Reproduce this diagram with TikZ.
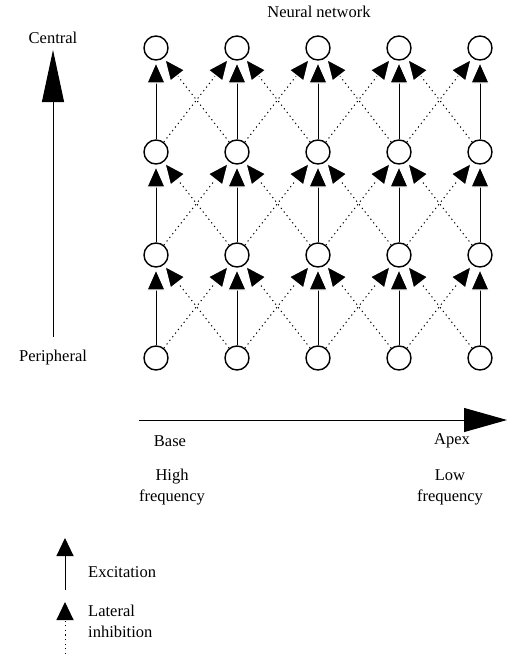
\documentclass[tikz,border=0pt]{standalone}
\usepackage{fontspec}
\setmainfont{Liberation Serif}
\usetikzlibrary{arrows.meta}
\tikzset{
  neuron/.style={circle, draw, fill=white, line width=1.4pt, minimum size=24pt, inner sep=0pt},
  exc/.style={line width=1pt, -{Triangle[width=20pt,length=23pt,fill=black,color=white,line width=1.3pt]}},
  inh/.style={line width=1pt, dash pattern=on 1.2pt off 3.4pt, -{Triangle[width=20pt,length=23pt,fill=black,color=white,line width=1.3pt]}},
  lbl/.style={font=\fontsize{16.5}{21}\selectfont, inner sep=0pt}
}
\begin{document}
\begin{tikzpicture}[x=1pt, y=-1pt]
\useasboundingbox (0,0) rectangle (514,654);
% network title
\node[lbl] (title) at (319,12){Neural network};
% neurons, column by column, top row first
\node[neuron] (n11) at (156,48){};
\node[neuron] (n12) at (156,152){};
\node[neuron] (n13) at (156,255){};
\node[neuron] (n14) at (156,358){};
\node[neuron] (n21) at (237,48){};
\node[neuron] (n22) at (237,152){};
\node[neuron] (n23) at (237,255){};
\node[neuron] (n24) at (237,358){};
\node[neuron] (n31) at (318,48){};
\node[neuron] (n32) at (318,152){};
\node[neuron] (n33) at (318,255){};
\node[neuron] (n34) at (318,358){};
\node[neuron] (n41) at (399,48){};
\node[neuron] (n42) at (399,152){};
\node[neuron] (n43) at (399,255){};
\node[neuron] (n44) at (399,358){};
\node[neuron] (n51) at (480,48){};
\node[neuron] (n52) at (480,152){};
\node[neuron] (n53) at (480,255){};
\node[neuron] (n54) at (480,358){};
% lateral inhibition
\draw[inh](n14) -- (n23);
\draw[inh](n24) -- (n13);
\draw[inh](n24) -- (n33);
\draw[inh](n34) -- (n23);
\draw[inh](n34) -- (n43);
\draw[inh](n44) -- (n33);
\draw[inh](n44) -- (n53);
\draw[inh](n54) -- (n43);
\draw[inh](n13) -- (n22);
\draw[inh](n23) -- (n12);
\draw[inh](n23) -- (n32);
\draw[inh](n33) -- (n22);
\draw[inh](n33) -- (n42);
\draw[inh](n43) -- (n32);
\draw[inh](n43) -- (n52);
\draw[inh](n53) -- (n42);
\draw[inh](n12) -- (n21);
\draw[inh](n22) -- (n11);
\draw[inh](n22) -- (n31);
\draw[inh](n32) -- (n21);
\draw[inh](n32) -- (n41);
\draw[inh](n42) -- (n31);
\draw[inh](n42) -- (n51);
\draw[inh](n52) -- (n41);
% excitation
\draw[exc](n14) -- (n13);
\draw[exc](n13) -- (n12);
\draw[exc](n12) -- (n11);
\draw[exc](n24) -- (n23);
\draw[exc](n23) -- (n22);
\draw[exc](n22) -- (n21);
\draw[exc](n34) -- (n33);
\draw[exc](n33) -- (n32);
\draw[exc](n32) -- (n31);
\draw[exc](n44) -- (n43);
\draw[exc](n43) -- (n42);
\draw[exc](n42) -- (n41);
\draw[exc](n54) -- (n53);
\draw[exc](n53) -- (n52);
\draw[exc](n52) -- (n51);
% central / peripheral axis
\node[lbl] (central) at (53,38){Central};
\node[lbl] (periph) at (53,358){Peripheral};
\coordinate (vtop) at (53,50);
\coordinate (vbot) at (53,337);
\draw[line width=1pt, -{Triangle[width=22pt,length=52pt]}] (vbot) -- (vtop);
% base / apex axis
\coordinate (hleft) at (139,420);
\coordinate (hright) at (507,420);
\draw[line width=1pt, -{Triangle[width=24pt,length=43pt]}] (hleft) -- (hright);
\node[lbl] (base) at (170,441){Base};
\node[lbl] (apex) at (452,441){Apex};
\node[lbl, align=center] (high) at (172,487){High\\frequency};
\node[lbl, align=center] (low) at (450,487){Low\\frequency};
% legend
\coordinate (ea) at (65,590);
\coordinate (eb) at (65,538);
\draw[line width=1pt, -{Triangle[width=17pt,length=18pt]}] (ea) -- (eb);
\node[lbl, anchor=west] (exclbl) at (88,572){Excitation};
\coordinate (ia) at (65,654);
\coordinate (ib) at (65,602);
\draw[line width=1pt, dash pattern=on 1.2pt off 3.4pt, -{Triangle[width=17pt,length=18pt]}] (ia) -- (ib);
\node[lbl, anchor=west, align=left] (inhlbl) at (88,621){Lateral\\inhibition};
\end{tikzpicture}
\end{document}
